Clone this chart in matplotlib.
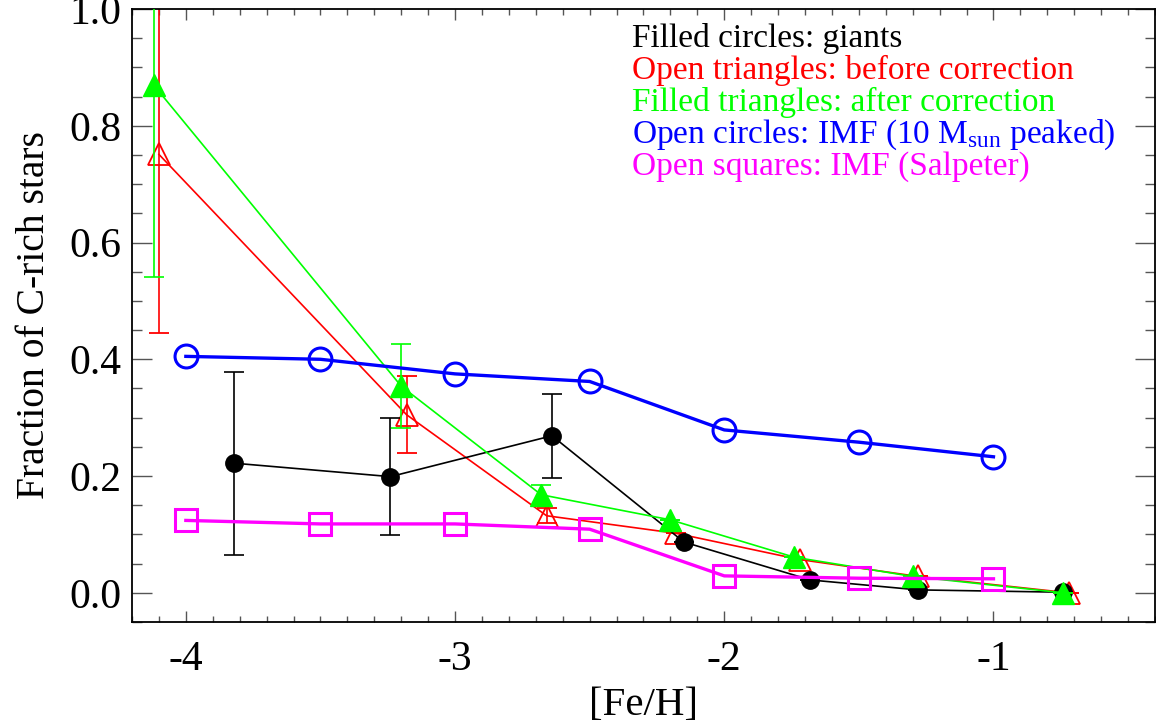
import numpy as np
import matplotlib
matplotlib.use("Agg")
import matplotlib.pyplot as plt

plt.rcParams['font.family'] = ['Liberation Serif', 'DejaVu Serif']
plt.rcParams['mathtext.fontset'] = 'custom'
plt.rcParams['mathtext.rm'] = 'Liberation Serif'

# giants (filled circles)
giant_feh = [-3.82, -3.24, -2.64, -2.15, -1.68, -1.28, -0.74]
giant_frac = [0.222, 0.199, 0.269, 0.087, 0.022, 0.005, 0.001]
giant_err = [0.157, 0.100, 0.072, 0.0, 0.0, 0.0, 0.0]

# open triangles: before correction
before_feh = [-4.10, -3.18, -2.66, -2.18, -1.72, -1.28, -0.72]
before_frac = [0.751, 0.305, 0.132, 0.102, 0.057, 0.028, 0.000]
before_err = [0.306, 0.066, 0.013, 0.0, 0.0, 0.0, 0.0]

# filled triangles: after correction
after_feh = [-4.12, -3.20, -2.68, -2.20, -1.74, -1.30, -0.74]
after_frac = [0.870, 0.354, 0.168, 0.125, 0.061, 0.028, 0.000]
after_err = [0.329, 0.072, 0.017, 0.0, 0.0, 0.0, 0.0]

# IMF models
imf_feh = [-4.0, -3.5, -3.0, -2.5, -2.0, -1.5, -1.0]
imf_peak = [0.405, 0.400, 0.375, 0.362, 0.279, 0.258, 0.233]
imf_salp = [0.124, 0.118, 0.118, 0.109, 0.029, 0.025, 0.024]

legend_lines = [
    ("Filled circles: giants", "black"),
    ("Open triangles: before correction", "#ff0000"),
    ("Filled triangles: after correction", "#00ff00"),
    (r"Open circles: IMF (10 $\mathregular{M_{sun}}$ peaked)", "#0000ff"),
    ("Open squares: IMF (Salpeter)", "#ff00ff"),
]

fig = plt.figure(figsize=(11.56, 7.24), dpi=100)
ax = fig.add_axes([132 / 1156, 1 - 622 / 724, (1155 - 132) / 1156, (622 - 9) / 724])

cap = 7
ax.errorbar(before_feh, before_frac, yerr=before_err, color="#ff0000", lw=1.2,
            marker="^", ms=16, mfc="none", mec="#ff0000", mew=1.3,
            capsize=cap, elinewidth=1.2, capthick=1.2, zorder=2)
ax.errorbar(giant_feh, giant_frac, yerr=giant_err, color="black", lw=1.2,
            marker="o", ms=12.5, mfc="black", mec="black",
            capsize=cap, elinewidth=1.2, capthick=1.2, zorder=3)
ax.errorbar(after_feh, after_frac, yerr=after_err, color="#00ff00", lw=1.2,
            marker="^", ms=16, mfc="#00ff00", mec="#00ff00",
            capsize=cap, elinewidth=1.2, capthick=1.2, zorder=4)
ax.plot(imf_feh, imf_peak, color="#0000ff", lw=2.4, marker="o", ms=16.5,
        mfc="none", mec="#0000ff", mew=2.2, zorder=5)
ax.plot(imf_feh, imf_salp, color="#ff00ff", lw=2.4, marker="s", ms=16,
        mfc="none", mec="#ff00ff", mew=2.2, zorder=6)

ax.set_xlim(-4.2, -0.4)
ax.set_ylim(-0.05, 1.0)
ax.set_xticks([-4, -3, -2, -1])
ax.set_xticklabels(["-4", "-3", "-2", "-1"])
ax.set_yticks([0.0, 0.2, 0.4, 0.6, 0.8, 1.0])
ax.set_yticklabels(["0.0", "0.2", "0.4", "0.6", "0.8", "1.0"])
ax.set_xticks(np.arange(-4.2, -0.39, 0.1), minor=True)
ax.set_yticks(np.arange(-0.05, 1.001, 0.05), minor=True)

ax.tick_params(axis="both", which="both", direction="in", top=True, right=True,
               color="#555555", width=1.0, labelsize=30)
ax.tick_params(axis="x", which="major", length=8, pad=13)
ax.tick_params(axis="x", which="minor", length=4)
ax.tick_params(axis="y", which="major", length=14.5, pad=7.5)
ax.tick_params(axis="y", which="minor", length=7.5)
for s in ax.spines.values():
    s.set_linewidth(1.3)

ax.set_xlabel("[Fe/H]", fontsize=29.5, labelpad=6)
ax.set_ylabel("Fraction of C-rich stars", fontsize=28.5, labelpad=12)

for i, (txt, col) in enumerate(legend_lines):
    fig.text(632 / 1156, 1 - (47 + 32 * i) / 724, txt, color=col,
             fontsize=24, ha="left", va="baseline")

fig.savefig("out.png", dpi=100)
